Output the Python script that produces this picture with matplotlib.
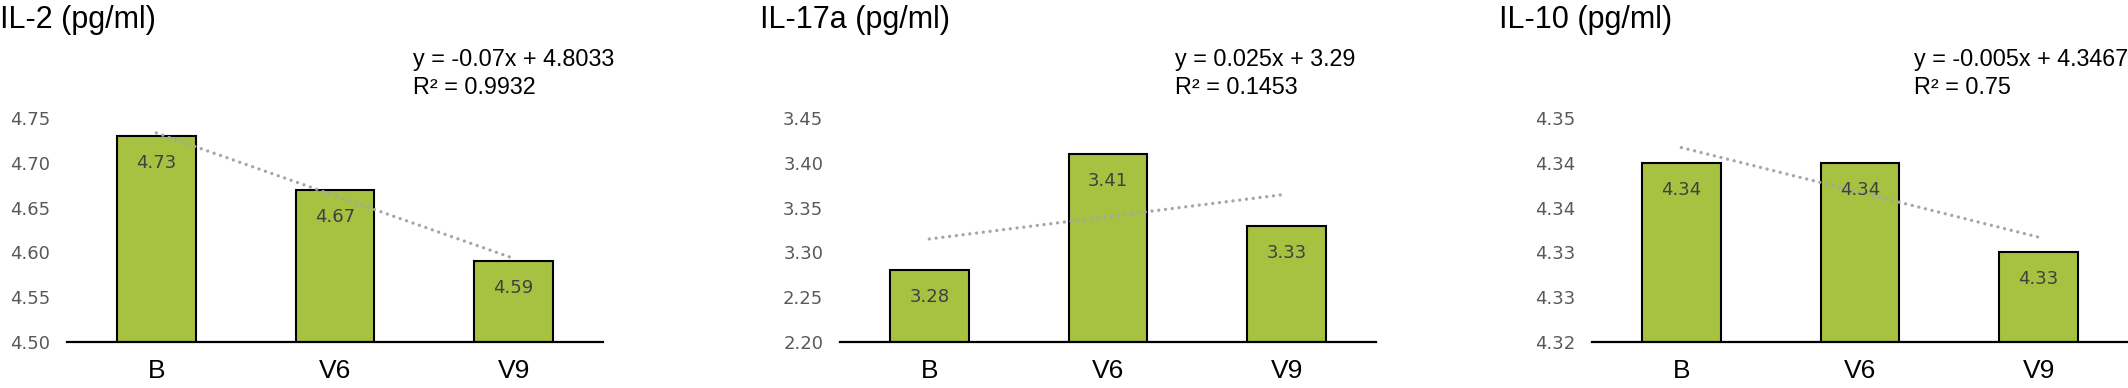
import numpy as np
import matplotlib
matplotlib.use('Agg')
import matplotlib.pyplot as plt

# ---------------- data ----------------
categories = ['B', 'V6', 'V9']

titles = ['IL-2 (pg/ml)', 'IL-17a (pg/ml)', 'IL-10 (pg/ml)']

il2 = [4.73, 4.67, 4.59]
il17a = [3.28, 3.41, 3.33]
il10 = [4.34, 4.34, 4.33]

il2_ticks = [4.50, 4.55, 4.60, 4.65, 4.70, 4.75]
il2_ticklabels = ['4.50', '4.55', '4.60', '4.65', '4.70', '4.75']
il17a_ticks = [3.20, 3.25, 3.30, 3.35, 3.40, 3.45]
il17a_ticklabels = ['2.20', '2.25', '3.30', '3.35', '3.40', '3.45']
il10_ticks = [4.320, 4.325, 4.330, 4.335, 4.340, 4.345]
il10_ticklabels = ['4.32', '4.33', '4.33', '4.34', '4.34', '4.35']

# linear trend lines (slope, intercept, R^2) as printed on the chart
il2_fit = (-0.07, 4.8033, 0.9932)
il17a_fit = (0.025, 3.29, 0.1453)
il10_fit = (-0.005, 4.3467, 0.75)
# ------------------------------------------------------------

W, H = 2128, 388
DPI = 100
fig = plt.figure(figsize=(W / DPI, H / DPI), dpi=DPI)

bar_color = '#A7C140'
trend_color = '#A6A6A6'

# pixel layout: axes left edges, title x, equation x
ax_left = [67, 840, 1592]
ax_width = 536
ax_bottom_px = 342
ax_top_px = 118
title_x = [0, 760, 1499]
eq_x = [413, 1175, 1914]

panels = [
    (il2, il2_ticks, il2_ticklabels, il2_fit),
    (il17a, il17a_ticks, il17a_ticklabels, il17a_fit),
    (il10, il10_ticks, il10_ticklabels, il10_fit),
]

x = np.arange(len(categories))

for i, (vals, ticks, ticklabels, fit) in enumerate(panels):
    ax = fig.add_axes([ax_left[i] / W, (H - ax_bottom_px) / H,
                       ax_width / W, (ax_bottom_px - ax_top_px) / H])
    ax.bar(x, vals, width=0.44, color=bar_color, edgecolor='black',
           linewidth=1.5, zorder=2)
    ax.set_xlim(-0.5, 2.5)
    ax.set_ylim(ticks[0], ticks[-1])
    ax.set_yticks(ticks)
    ax.set_yticklabels(ticklabels, fontsize=13, color='#595959',
                       family='DejaVu Sans')
    ax.set_xticks(x)
    ax.set_xticklabels(categories, fontsize=19, family='Liberation Sans')
    ax.tick_params(axis='y', length=0, pad=12)
    ax.tick_params(axis='x', length=0, pad=12)
    for s in ['top', 'right', 'left']:
        ax.spines[s].set_visible(False)
    ax.spines['bottom'].set_linewidth(1.6)
    ax.spines['bottom'].set_zorder(3)
    ax.patch.set_alpha(0)

    for xi, v in zip(x, vals):
        ax.annotate('%.2f' % v, (xi, v), xytext=(0, -19.5), textcoords='offset points',
                    ha='center', va='center', fontsize=13, color='#404040',
                    family='DejaVu Sans', zorder=5)

    m, b, r2 = fit
    xf = np.array([0, 2])
    yf = m * (xf + 1) + b
    ax.plot(xf, yf, color=trend_color, lw=2.4, dashes=(0.01, 2.03),
            dash_capstyle='round', zorder=4)

    fig.text(title_x[i] / W, 1 - 28 / H, titles[i], fontsize=22,
             family='Liberation Sans', va='baseline', ha='left')
    fig.text(eq_x[i] / W, 1 - 66 / H, 'y = %sx + %s' % (m, b), fontsize=16.8,
             family='Liberation Sans', va='baseline', ha='left')
    fig.text(eq_x[i] / W, 1 - 94 / H, 'R\u00b2 = %s' % r2, fontsize=16.8,
             family='Liberation Sans', va='baseline', ha='left')

fig.savefig('out.png', dpi=DPI)
